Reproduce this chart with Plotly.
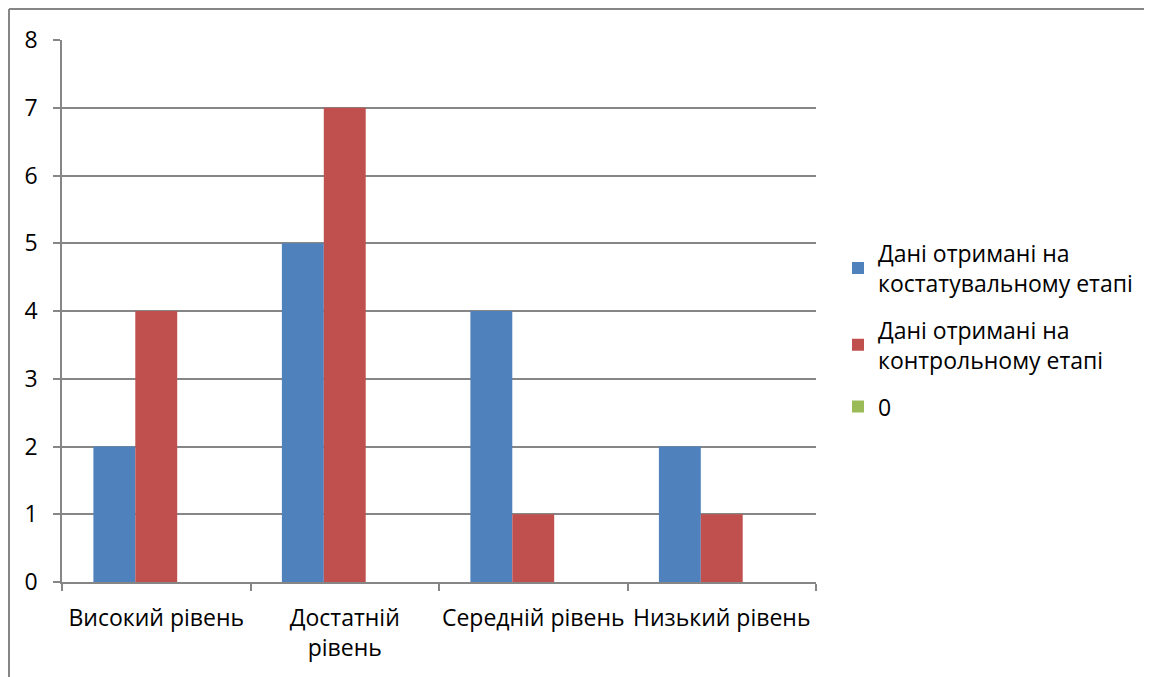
import plotly.graph_objects as go

categories = ["Високий рівень", "Достатній<br>рівень", "Середній рівень", "Низький рівень"]
series_names = ["Дані отримані на<br>костатувальному етапі",
                "Дані отримані на<br>контрольному етапі",
                "0"]
s1 = [2, 5, 4, 2]
s2 = [4, 7, 1, 1]
s3 = [0, 0, 0, 0]
colors = ["#4F81BD", "#C0504D", "#9BBB59"]

FONT = "Open Sans"
FS = 23
fig = go.Figure()
for i, (name, vals, c) in enumerate(zip(series_names, [s1, s2, s3], colors)):
    fig.add_trace(go.Bar(x=categories, y=vals, name=name, marker_color=c,
                         marker_line_width=0, legendgroup=f"g{i}"))

# page offset (body margin) of 8px
OFF = 8
W, H = 1152 - OFF, 677 - OFF
L, R, T, B = 62 - OFF, 1152 - 816, 40 - OFF, 677 - 582
pw, ph = W - L - R, H - T - B

def px(x):
    return (x - OFF - L) / pw

def py(y):
    return 1 - (y - OFF - T) / ph

fig.update_layout(
    width=W, height=H,
    margin=dict(l=L, r=R, t=T, b=B, pad=0, autoexpand=False),
    paper_bgcolor="white", plot_bgcolor="white",
    barmode="group", bargap=0.333, bargroupgap=0,
    font=dict(family=FONT, size=FS, color="#000000"),
    legend=dict(x=px(838), y=py(330), xanchor="left", yanchor="middle",
                font=dict(family=FONT, size=FS, color="#000000"),
                tracegroupgap=14, itemwidth=30, bgcolor="rgba(0,0,0,0)"),
    xaxis=dict(type="category", showline=True, linecolor="#868686", linewidth=1.5,
               ticks="outside", tickson="boundaries", ticklen=7, tickcolor="#868686",
               tickwidth=1.5, showgrid=False, tickfont=dict(size=FS), tickangle=0,
               ticklabelstandoff=15, automargin=False),
    yaxis=dict(range=[0, 8], dtick=1, showline=True, linecolor="#868686", linewidth=1.5,
               ticks="outside", ticklen=7, tickcolor="#868686", tickwidth=1.5,
               showgrid=True, gridcolor="#868686", gridwidth=1.5, zeroline=False,
               tickfont=dict(size=FS), ticklabelstandoff=11, automargin=False),
    shapes=[
        dict(type="line", xref="paper", yref="paper", x0=px(9), x1=px(9),
             y0=py(720), y1=py(9), line=dict(color="#868686", width=2)),
        dict(type="line", xref="paper", yref="paper", x0=px(9), x1=px(1200),
             y0=py(9), y1=py(9), line=dict(color="#868686", width=2)),
    ],
)

fig.write_html("out.html")
